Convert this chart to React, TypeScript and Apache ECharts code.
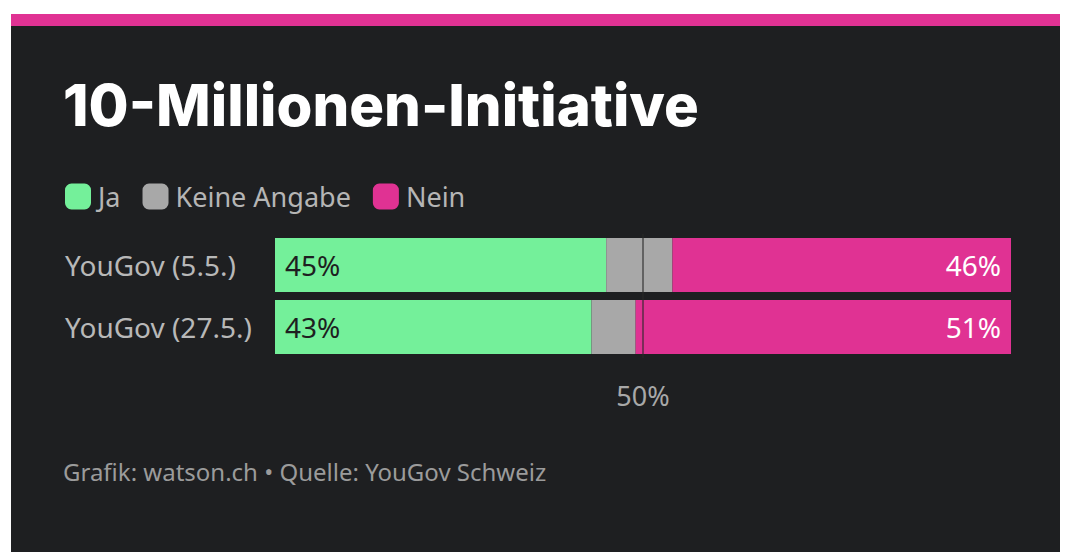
import React, { useEffect, useRef } from "react";
import * as echarts from "echarts";

const categories = ["YouGov (5.5.)", "YouGov (27.5.)"];
const ja = [45, 43];
const keine = [9, 6];
const nein = [46, 51];
const title = "10-Millionen-Initiative";
const footer = "Grafik: watson.ch • Quelle: YouGov Schweiz";

export default function App() {
  const ref = useRef<HTMLDivElement>(null);
  useEffect(() => {
    document.body.style.margin = "0";
    const chart = echarts.init(ref.current!, null, { renderer: "svg" });
    const font = "Noto Sans";
    chart.setOption({
      animation: false,
      backgroundColor: "#ffffff",
      graphic: [
        { type: "rect", shape: { x: 11, y: 14, width: 1049, height: 540 }, style: { fill: "#1e1f21" }, z: -10 },
        { type: "rect", shape: { x: 11, y: 14, width: 1049, height: 12 }, style: { fill: "#e03293" }, z: -9 },
        { type: "text", left: 63, top: 76, style: { text: title, fill: "#ffffff", font: "800 58px Inter" } },
        { type: "text", left: 63, top: 459, style: { text: footer, fill: "#9b9b9b", font: `24px '${font}'` } },
      ],
      legend: {
        left: 60, top: 178, itemWidth: 26, itemHeight: 26, itemGap: 22,
        icon: "roundRect",
        textStyle: { color: "#b5b5b5", fontSize: 27, fontFamily: font, padding: [0, 0, 0, 2] },
        data: ["Ja", "Keine Angabe", "Nein"],
      },
      grid: { left: 275, right: 64, top: 234, height: 124 },
      xAxis: { type: "value", min: 0, max: 100, show: false },
      yAxis: {
        type: "category", data: categories, inverse: true,
        axisLine: { show: false }, axisTick: { show: false },
        axisLabel: { color: "#b8b8b8", fontSize: 28, fontFamily: font, align: "left", margin: 210 },
      },
      series: [
        {
          name: "Ja", type: "bar", stack: "s", data: ja, barWidth: 54, itemStyle: { color: "#74f09a" },
          label: { show: true, position: "insideLeft", formatter: "{c}%", color: "#1e1f21", fontSize: 28, fontFamily: font, distance: 10 },
        },
        {
          name: "Keine Angabe", type: "bar", stack: "s", data: keine, barWidth: 54, itemStyle: { color: "#a8a8a8" },
        },
        {
          name: "Nein", type: "bar", stack: "s", data: nein, barWidth: 54, itemStyle: { color: "#e03293" },
          label: { show: true, position: "insideRight", formatter: "{c}%", color: "#ffffff", fontSize: 28, fontFamily: font, distance: 10 },
          markLine: {
            symbol: "none", silent: true,
            lineStyle: { color: "rgba(40,40,40,0.55)", width: 2, type: "solid" },
            label: { show: true, position: "end", formatter: "50%", color: "#a8a8a8", fontSize: 27, fontFamily: font, distance: 24 },
            data: [{ xAxis: 50 }],
          },
        },
      ],
    });
    return () => chart.dispose();
  }, []);
  return <div ref={ref} style={{ width: 1075, height: 552 }} />;
}
